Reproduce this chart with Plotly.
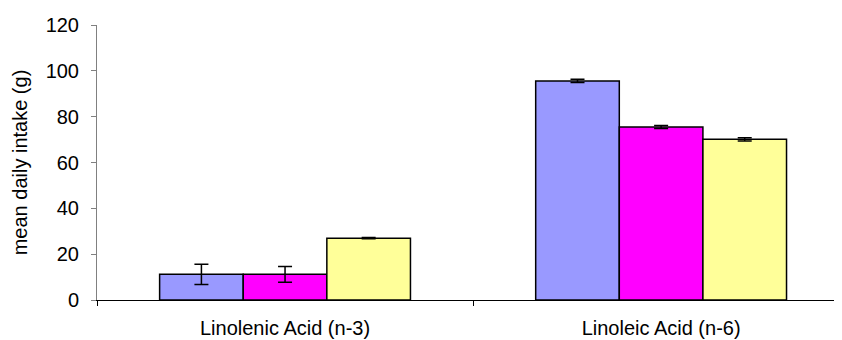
import plotly.graph_objects as go

categories = ["Linolenic Acid (n-3)", "Linoleic Acid (n-6)"]
series_names = ["Group A", "Group B", "Group C"]
series_colors = ["#9999FF", "#FF00FF", "#FFFF99"]
values_a = [11.2, 95.6]
values_b = [11.2, 75.5]
values_c = [27.0, 70.1]
errors_a = [4.4, 0.7]
errors_b = [3.4, 0.7]
errors_c = [0.3, 0.7]
y_ticks = [0, 20, 40, 60, 80, 100, 120]

fig = go.Figure()
for name, vals, errs, col in zip(series_names, [values_a, values_b, values_c],
                                 [errors_a, errors_b, errors_c], series_colors):
    fig.add_trace(go.Bar(
        x=categories, y=vals, name=name,
        marker=dict(color=col, line=dict(color="#000000", width=1.5)),
        error_y=dict(type="data", array=errs, visible=True, color="#000000",
                     thickness=1.5, width=7),
    ))

# the page body adds an 8px offset, so the figure is sized to fit the window
fig.update_layout(
    width=834, height=332,
    margin=dict(l=89, r=0, t=17, b=40),
    paper_bgcolor="white", plot_bgcolor="white",
    barmode="group", bargap=0.333, bargroupgap=0,
    showlegend=False,
    font=dict(family="Liberation Sans, Arial, sans-serif", color="#000000", size=20),
)
fig.update_xaxes(
    type="category", range=[-0.5, 1.481], automargin=False,
    showline=True, linecolor="#000000", linewidth=1,
    ticks="outside", tickson="boundaries", ticklen=5, tickcolor="#000000",
    showgrid=False, zeroline=False, ticklabelstandoff=10,
    tickfont=dict(size=20),
)
fig.update_yaxes(
    range=[0, 120], tickvals=y_ticks, automargin=False,
    showline=True, linecolor="#808080", linewidth=1,
    ticks="outside", ticklen=5, tickcolor="#808080",
    showgrid=False, zeroline=False, ticklabelstandoff=8,
    tickfont=dict(size=20),
    title=dict(text="mean daily intake (g)", font=dict(size=20), standoff=12),
)
fig.write_html("out.html")
